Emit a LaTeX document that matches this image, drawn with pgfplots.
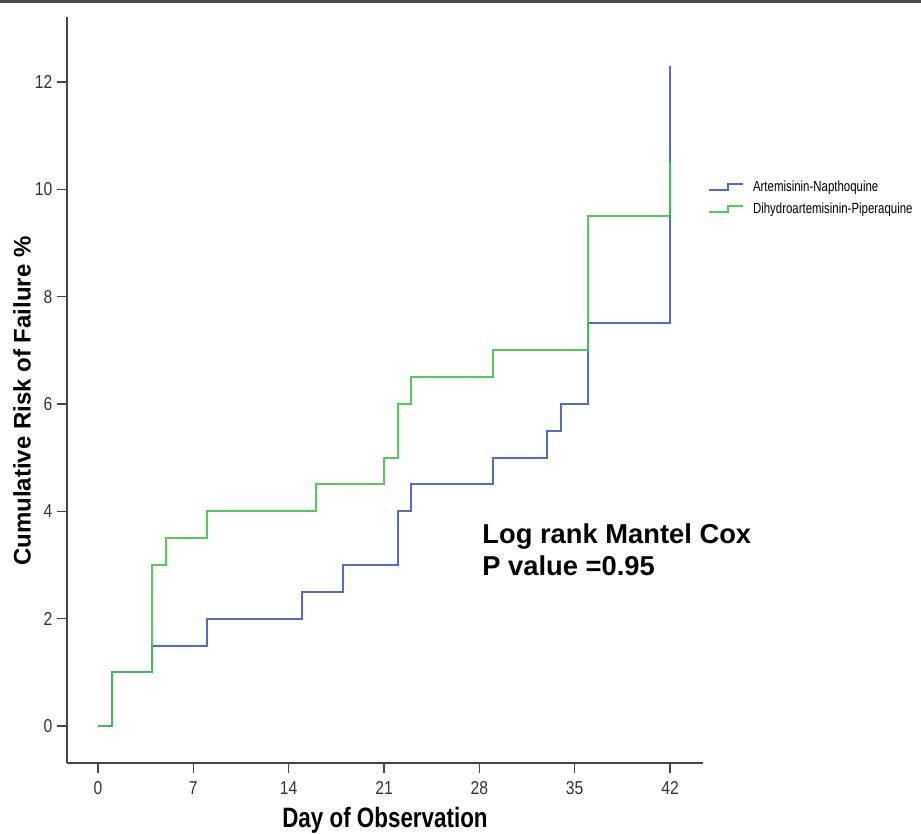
\documentclass[border=0pt]{standalone}
\usepackage{pgfplots}
\pgfplotsset{compat=1.18}
\usepackage{fontspec}
\setmainfont{Liberation Sans}
\newfontfamily\ticknarrow[FakeStretch=0.84]{Liberation Sans}
\newfontfamily\narrowfont[FakeStretch=0.8]{Liberation Sans}
\newfontfamily\legendfont[FakeStretch=0.78]{Liberation Sans}
\definecolor{kmblue}{RGB}{65,90,200}
\definecolor{kmgreen}{RGB}{65,195,75}
\definecolor{axgray}{RGB}{70,70,70}

\begin{document}
\begin{tikzpicture}
\begin{axis}[
    name=ax,
    at={(0,0)}, anchor=south west,
    scale only axis,
    clip=false,
    width=477pt, height=559.5pt,
    xmin=-2.276, xmax=44.42,
    ymin=-0.689, ymax=13.21,
    axis x line*=bottom,
    axis y line*=left,
    axis line style={axgray, line width=1.1pt},
    every tick/.style={axgray, line width=1.1pt},
    tick align=outside,
    major tick length=7.5pt,
    xtick={0,7,14,21,28,35,42},
    ytick={0,2,4,6,8,10,12},
    minor tick num=0,
    /pgf/number format/assume math mode=true,
    tick label style={font=\ticknarrow\fontsize{14pt}{16pt}\selectfont, text=black!80},
    xticklabel style={yshift=-3pt},
    xlabel={Day of Observation},
    ylabel={Cumulative Risk of Failure \%},
    xlabel style={font=\narrowfont\bfseries\fontsize{21pt}{24pt}\selectfont,
        at={(axis description cs:0.5,-0.0871)}, anchor=base},
    ylabel style={font=\bfseries\fontsize{18pt}{21pt}\selectfont,
        at={(axis description cs:-0.0708,0.485)}, anchor=center},
    legend style={draw=none, fill=none, inner sep=0pt,
        at={(axis description cs:1.008,0.757)}, anchor=west,
        font=\legendfont\fontsize{11pt}{13pt}\selectfont,
        row sep=5pt,
        nodes={inner sep=1pt, anchor=west}},
    legend cell align=left,
    legend image code/.code={
        \draw[#1] (0pt,-2.25pt) -- (14.25pt,-2.25pt) -- (14.25pt,2.25pt) -- (25.5pt,2.25pt);
        \path (31pt,0pt);
    },
]
\addplot[const plot, kmblue, line width=1.5pt, opacity=0.9] coordinates {
    (0,0) (1,1) (4,1.5) (8,2) (15,2.5) (18,3) (22,4) (23,4.5)
    (29,5) (33,5.5) (34,6) (36,7.5) (42,12.3)
};
\addlegendentry{Artemisinin-Napthoquine}
\addplot[const plot, kmgreen, line width=1.5pt, opacity=0.9] coordinates {
    (0,0) (1,1) (4,3) (5,3.5) (8,4) (16,4.5) (21,5) (22,6)
    (23,6.5) (29,7) (36,9.5) (42,10.5)
};
\addlegendentry{Dihydroartemisinin-Piperaquine}
\node[anchor=north west, inner sep=0pt, align=left,
      font=\bfseries\fontsize{20.5pt}{24pt}\selectfont]
    at (axis cs:28.2,3.78) {Log rank Mantel Cox\\P value =0.95};
\end{axis}
\pgfresetboundingbox
\path[use as bounding box] ([shift={(-50.25pt,-52.5pt)}]ax.south west)
    rectangle ([shift={(640.5pt,572.25pt)}]ax.south west);
\fill[black!70] ([shift={(-50.25pt,570pt)}]ax.south west)
    rectangle ([shift={(640.5pt,572.25pt)}]ax.south west);
\end{tikzpicture}
\end{document}
